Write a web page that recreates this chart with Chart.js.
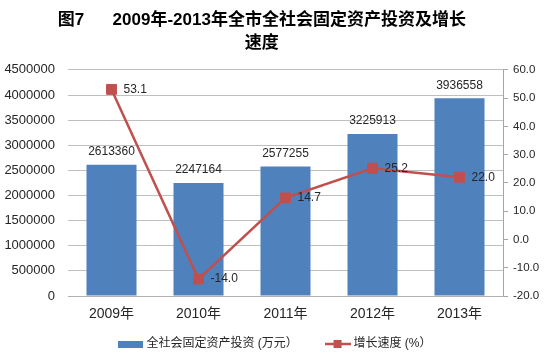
<!DOCTYPE html>
<html>
<head>
<meta charset="utf-8">
<script src="https://cdn.jsdelivr.net/npm/chart.js@4.4.0/dist/chart.umd.min.js"></script>
<style>
  body { margin: 0; background: #fff; }
  #wrap { width: 552px; height: 360px; }
</style>
</head>
<body>
<div id="wrap"><canvas id="chart" width="552" height="360"></canvas></div>
<script>
// data
var years = ['2009年', '2010年', '2011年', '2012年', '2013年'];
var investment = [2613360, 2247164, 2577255, 3225913, 3936558];
var growth = [53.1, -14.0, 14.7, 25.2, 22.0];

var titleLines = ['图7      2009年-2013年全市全社会固定资产投资及增长      ', '速度      '];
var barLabel = '全社会固定资产投资 (万元）     ';
var lineLabel = '增长速度 (%）';

var FONT = '"Liberation Sans", "Noto Sans CJK SC", sans-serif';
var BLUE = '#4F81BD';
var RED = '#C0504D';

// legend icons
function barIcon() {
    var c = document.createElement('canvas');
    c.width = 25; c.height = 7;
    var g = c.getContext('2d');
    g.fillStyle = BLUE;
    g.fillRect(0, 0, 25, 7);
    return c;
}
function lineIcon() {
    var c = document.createElement('canvas');
    c.width = 26; c.height = 10;
    var g = c.getContext('2d');
    g.strokeStyle = RED;
    g.lineWidth = 2.5;
    g.beginPath(); g.moveTo(0, 5); g.lineTo(26, 5); g.stroke();
    g.fillStyle = RED;
    g.fillRect(9, 1, 8, 8);
    return c;
}
var icons = [barIcon(), lineIcon()];

// value labels above bars and right of points
const valueLabels = {
    id: 'valueLabels',
    afterDatasetsDraw(chart) {
        const ctx = chart.ctx;
        ctx.save();
        ctx.fillStyle = '#262626';
        ctx.font = '12px ' + FONT;
        ctx.textBaseline = 'middle';
        chart.getDatasetMeta(0).data.forEach(function(bar, i) {
            ctx.textAlign = 'center';
            ctx.fillText(String(investment[i]), bar.x, bar.y - 13);
        });
        chart.getDatasetMeta(1).data.forEach(function(pt, i) {
            ctx.textAlign = 'left';
            ctx.fillText(growth[i].toFixed(1), pt.x + 12, pt.y);
        });
        ctx.restore();
    }
};

var ctx = document.getElementById('chart').getContext('2d');
window.investChart = new Chart(ctx, {
    data: {
        labels: years,
        datasets: [{
            type: 'bar',
            label: barLabel,
            data: investment,
            backgroundColor: BLUE,
            yAxisID: 'y',
            order: 2,
            barPercentage: 0.575,
            categoryPercentage: 1
        }, {
            type: 'line',
            label: lineLabel,
            data: growth,
            borderColor: RED,
            borderWidth: 2.5,
            pointStyle: 'rect',
            pointRadius: 7,
            pointBackgroundColor: RED,
            pointBorderColor: RED,
            pointBorderWidth: 1,
            tension: 0,
            yAxisID: 'y1',
            order: 1
        }]
    },
    options: {
        responsive: false,
        animation: false,
        events: [],
        layout: { padding: { left: 0, right: 0, top: 0, bottom: 0 } },
        plugins: {
            tooltip: { enabled: false },
            title: {
                display: true,
                text: titleLines,
                color: '#000',
                font: { family: FONT, size: 17, weight: 'bold', lineHeight: 1.35 },
                padding: { top: 8.5, bottom: 15.5 }
            },
            legend: {
                position: 'bottom',
                maxHeight: 37,
                labels: {
                    usePointStyle: true,
                    pointStyleWidth: 20,
                    padding: 13,
                    color: '#262626',
                    font: { family: FONT, size: 12 },
                    generateLabels: function(chart) {
                        return chart.data.datasets.map(function(ds, i) {
                            return {
                                text: ds.label,
                                pointStyle: icons[i],
                                fillStyle: 'transparent',
                                strokeStyle: 'transparent',
                                lineWidth: 0,
                                hidden: false,
                                datasetIndex: i,
                                fontColor: '#262626'
                            };
                        });
                    }
                }
            }
        },
        scales: {
            x: {
                afterFit: function(s) { s.height = 29; },
                grid: { display: false, drawTicks: false },
                border: { color: '#B0B0B0' },
                ticks: { color: '#262626', padding: 10, font: { family: FONT, size: 14 } }
            },
            y: {
                position: 'left',
                min: 0,
                max: 4500000,
                afterFit: function(s) { s.width = 68; },
                ticks: {
                    stepSize: 500000,
                    padding: 13,
                    color: '#262626',
                    font: { family: FONT, size: 13 },
                    callback: function(v) { return String(v); }
                },
                grid: { color: '#BFBFBF', drawTicks: false },
                border: { display: false }
            },
            y1: {
                position: 'right',
                min: -20,
                max: 60,
                afterFit: function(s) { s.width = 49; },
                ticks: {
                    stepSize: 10,
                    padding: 5,
                    color: '#262626',
                    font: { family: FONT, size: 11.5 },
                    callback: function(v) { return v.toFixed(1); }
                },
                grid: { drawOnChartArea: false, tickLength: 5, color: '#A6A6A6' },
                border: { color: '#A6A6A6' }
            }
        }
    },
    plugins: [valueLabels]
});
</script>
</body>
</html>
